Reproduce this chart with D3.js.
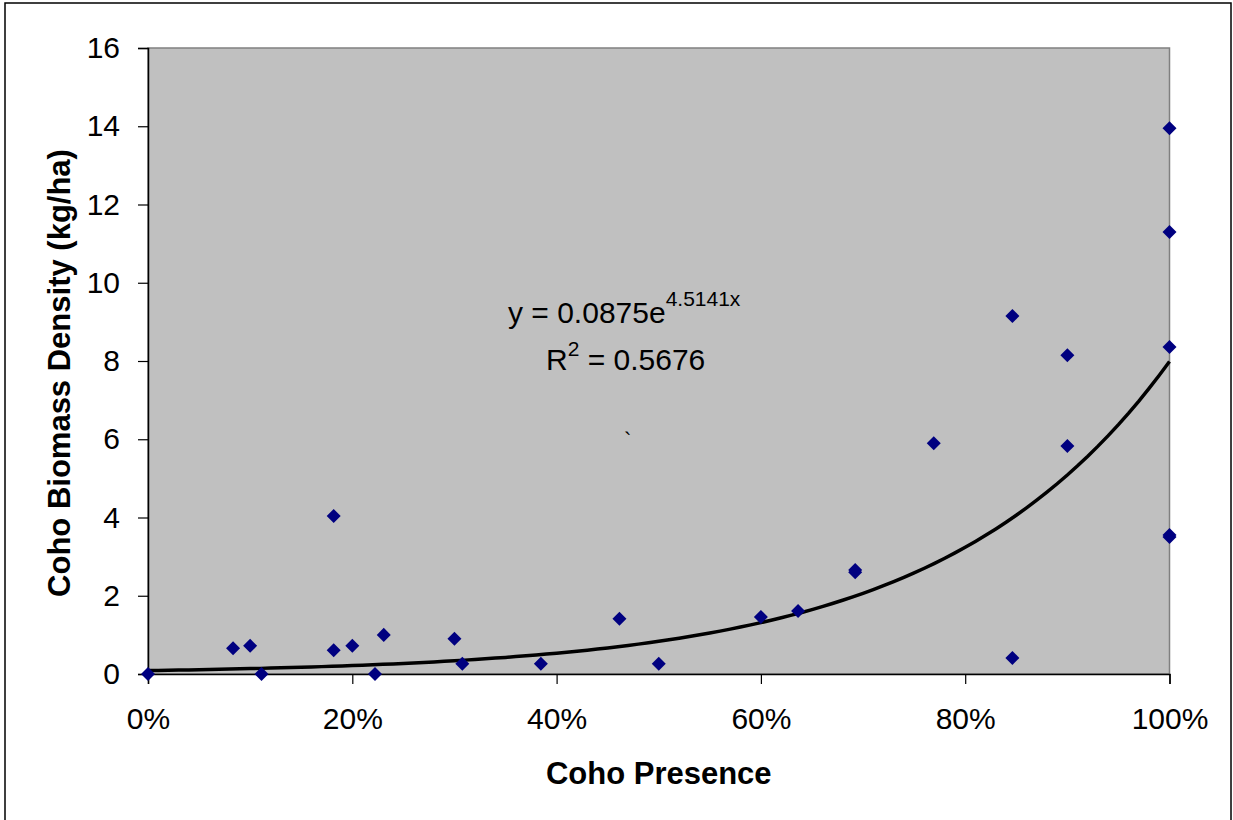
<!DOCTYPE html>
<html>
<head>
<meta charset="utf-8">
<script src="https://cdn.jsdelivr.net/npm/d3@7"></script>
<style>
  body { margin: 0; background: #fff; }
  text { font-family: "Liberation Sans", Arial, sans-serif; }
</style>
</head>
<body>
<div id="chart"></div>
<script>
// observed points (coho presence as fraction, biomass kg/ha)
var presence = [0, 0.0833, 0.10, 0.1111, 0.1818, 0.1818, 0.20, 0.2222, 0.2308,
                0.30, 0.3077, 0.3846, 0.4615, 0.50, 0.60, 0.6364, 0.6923, 0.6923,
                0.7692, 0.8462, 0.8462, 0.90, 0.90, 1.0, 1.0, 1.0, 1.0, 1.0];
var biomass  = [0, 0.66, 0.72, 0, 0.61, 4.04, 0.72, 0, 1.0,
                0.9, 0.26, 0.26, 1.41, 0.26, 1.46, 1.61, 2.60, 2.66,
                5.9, 0.41, 9.15, 8.15, 5.83, 13.95, 11.3, 8.36, 3.50, 3.55];

// exponential trendline y = a * e^(b x)
var trendA = 0.0875;
var trendB = 4.5141;
var rSquared = 0.5676;

var xTicks = [0, 0.2, 0.4, 0.6, 0.8, 1.0];
var yTicks = [0, 2, 4, 6, 8, 10, 12, 14, 16];

var width = 1233, height = 820;
var plotLeft = 148, plotRight = 1169.5, plotTop = 48, plotBottom = 674;

var svg = d3.select('#chart').append('svg')
    .attr('width', width)
    .attr('height', height);

// outer chart border
svg.append('rect')
    .attr('x', 5).attr('y', 3)
    .attr('width', 1226).attr('height', 830)
    .attr('fill', '#fff')
    .attr('stroke', '#000')
    .attr('stroke-width', 1.5);

var xScale = d3.scaleLinear().domain([0, 1]).range([plotLeft, plotRight]);
var yScale = d3.scaleLinear().domain([0, 16]).range([plotBottom, plotTop]);

// plot area
svg.append('rect')
    .attr('x', plotLeft).attr('y', plotTop)
    .attr('width', plotRight - plotLeft).attr('height', plotBottom - plotTop)
    .attr('fill', '#c0c0c0')
    .attr('stroke', '#808080')
    .attr('stroke-width', 1.5);

// axes
var yAxis = d3.axisLeft(yScale).tickValues(yTicks).tickSize(10).tickPadding(18)
    .tickFormat(d3.format('d'));
var xAxis = d3.axisBottom(xScale).tickValues(xTicks).tickSize(10).tickPadding(24)
    .tickFormat(d3.format('.0%'));

var gy = svg.append('g').attr('transform', 'translate(' + plotLeft + ',0)').call(yAxis);
var gx = svg.append('g').attr('transform', 'translate(0,' + plotBottom + ')').call(xAxis);

[gx, gy].forEach(function (g) {
  g.select('.domain').attr('stroke', '#000').attr('stroke-width', 1.5);
  g.selectAll('.tick line').attr('stroke', '#000').attr('stroke-width', 1.2);
  g.selectAll('.tick text')
    .attr('fill', '#000')
    .style('font-size', '30px')
    .style('font-family', '"Liberation Sans", Arial, sans-serif');
});
gx.selectAll('.tick text').attr('dy', '0.71em');

// trendline
var trendX = d3.range(0, 1.0001, 0.01);
var line = d3.line()
    .x(function (d) { return xScale(d); })
    .y(function (d) { return yScale(trendA * Math.exp(trendB * d)); });

svg.append('path')
    .datum(trendX)
    .attr('d', line)
    .attr('fill', 'none')
    .attr('stroke', '#000')
    .attr('stroke-width', 3.5);

// diamonds
var diamond = d3.symbol().type(d3.symbolDiamond2).size(125);
svg.selectAll('path.pt')
    .data(presence)
    .enter().append('path')
    .attr('class', 'pt')
    .attr('d', diamond)
    .attr('transform', function (d, i) {
      return 'translate(' + xScale(d) + ',' + yScale(biomass[i]) + ')';
    })
    .attr('fill', '#000080');

// equation label
var eq = svg.append('text')
    .attr('x', 508).attr('y', 323)
    .style('font-size', '30px').attr('fill', '#000');
eq.append('tspan').text('y = ' + trendA + 'e');
eq.append('tspan').attr('dy', -17).style('font-size', '21px').text(trendB + 'x');

var r2 = svg.append('text')
    .attr('x', 546).attr('y', 370)
    .style('font-size', '30px').attr('fill', '#000');
r2.append('tspan').text('R');
r2.append('tspan').attr('dy', -14).style('font-size', '21px').text('2');
r2.append('tspan').attr('dy', 14).text(' = ' + rSquared);

// stray mark present on the original
svg.append('text')
    .attr('x', 624).attr('y', 448)
    .style('font-size', '22px').text('`');

// axis titles
svg.append('text')
    .attr('x', (plotLeft + plotRight) / 2).attr('y', 784)
    .attr('text-anchor', 'middle')
    .style('font-size', '31px').style('font-weight', 'bold')
    .text('Coho Presence');

svg.append('text')
    .attr('transform', 'translate(70,' + 373 + ') rotate(-90)')
    .attr('text-anchor', 'middle')
    .style('font-size', '31px').style('font-weight', 'bold')
    .text('Coho Biomass Density (kg/ha)');
</script>
</body>
</html>
